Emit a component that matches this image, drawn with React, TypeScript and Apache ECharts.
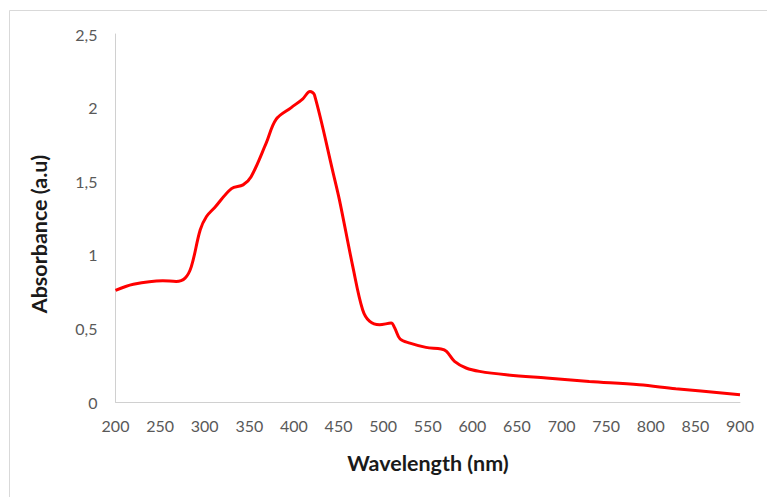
import React, { useEffect, useRef } from "react";
import * as echarts from "echarts";

const wavelengths = [200, 220, 253, 268, 278, 285, 295, 302, 311, 330, 343, 352, 369, 380, 397, 410, 418, 423, 444, 451, 466, 477, 485, 496, 509, 513, 519, 530, 548, 565, 571, 580, 593, 608, 638, 683, 731, 787, 828, 900];
const absorbance = [0.758, 0.8, 0.824, 0.819, 0.842, 0.92, 1.17, 1.26, 1.32, 1.45, 1.475, 1.53, 1.76, 1.92, 2.0, 2.06, 2.11, 2.086, 1.555, 1.373, 0.92, 0.627, 0.547, 0.525, 0.536, 0.502, 0.428, 0.4, 0.371, 0.36, 0.344, 0.276, 0.231, 0.208, 0.185, 0.163, 0.14, 0.117, 0.09, 0.05];
const xTitle = "Wavelength (nm)";
const yTitle = "Absorbance (a.u)";

export default function App() {
  const ref = useRef<HTMLDivElement>(null);
  useEffect(() => {
    document.body.style.margin = "0";
    const chart = echarts.init(ref.current!, null, { renderer: "svg" });
    const data = wavelengths.map((w, i) => [w, absorbance[i]]);
    chart.setOption({
      animation: false,
      backgroundColor: "#ffffff",
      grid: { left: 115.5, right: 27, top: 34, bottom: 95 },
      xAxis: {
        type: "value",
        min: 200,
        max: 900,
        interval: 50,
        axisLine: { show: true, lineStyle: { color: "#d0d0d0", width: 1 } },
        axisTick: { show: false },
        splitLine: { show: false },
        axisLabel: { color: "#595959", fontFamily: "Lato", fontSize: 16, margin: 15 },
      },
      yAxis: {
        type: "value",
        min: 0,
        max: 2.5,
        interval: 0.5,
        axisLine: { show: true, lineStyle: { color: "#d0d0d0", width: 1 } },
        axisTick: { show: false },
        splitLine: { show: false },
        axisLabel: {
          color: "#595959",
          fontFamily: "Lato",
          fontSize: 16,
          margin: 18,
          formatter: (v: number) => String(v).replace(".", ","),
        },
      },
      graphic: [
        {
          type: "rect",
          shape: { x: 9.5, y: 10.5, width: 900, height: 700 },
          style: { fill: "none", stroke: "#d9d9d9", lineWidth: 1 },
          silent: true,
        },
        {
          type: "text",
          x: 428,
          y: 463,
          style: {
            text: xTitle,
            font: "bold 21.5px Lato",
            fill: "#1a1a1a",
            align: "center",
            verticalAlign: "middle",
          },
        },
        {
          type: "text",
          x: 39,
          y: 234,
          rotation: Math.PI / 2,
          style: {
            text: yTitle,
            font: "bold 21.5px Lato",
            fill: "#1a1a1a",
            align: "center",
            verticalAlign: "middle",
          },
        },
      ],
      series: [
        {
          type: "line",
          data,
          smooth: 0.35,
          showSymbol: false,
          lineStyle: { color: "#ff0000", width: 3 },
        },
      ],
    });
    return () => chart.dispose();
  }, []);
  return <div ref={ref} style={{ width: 767, height: 497 }} />;
}
